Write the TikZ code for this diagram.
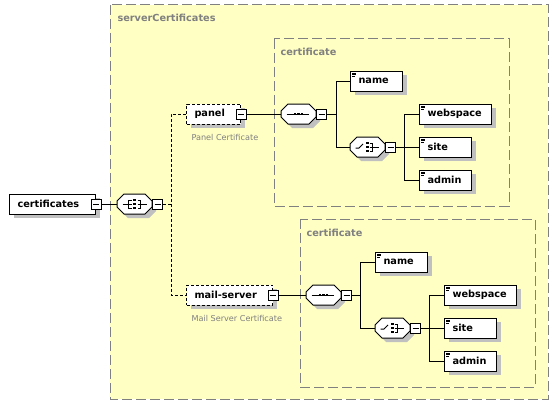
\documentclass[tikz,border=0pt]{standalone}
\usepackage{fontspec}
\setsansfont{DejaVu Sans}
\usepackage{tikz}
\usetikzlibrary{shadows}
\definecolor{typefill}{HTML}{FFFFC4}
\definecolor{typegray}{HTML}{808080}
\definecolor{shadowgray}{HTML}{C0C0C0}

\newcommand\compshape{%
  \fill[shadowgray] (4,1) -- (11,-6) -- (32,-6) -- (39,1) -- (39,7) -- (32,14) -- (11,14) -- (4,7) -- cycle;
  \draw[fill=white] (0,-3) -- (7,-10) -- (28,-10) -- (35,-3) -- (35,3) -- (28,10) -- (7,10) -- (0,3) -- cycle;
  \node[inner sep=0pt,minimum width=26.25pt,minimum height=15pt] (-box) at (17.5,0) {};
  \node[minus,anchor=west] (-m) at (35,0) {};}

\begin{document}
\begin{tikzpicture}[x=0.75pt,y=-0.75pt,line width=0.75pt,
  every node/.style={font=\sffamily\fontsize{7.3}{8}\selectfont},
  shade box/.style={drop shadow={shadow xshift=3pt,shadow yshift=-3pt,fill=shadowgray,opacity=1}},
  elem/.style={draw,fill=white,anchor=west,minimum height=15pt,inner xsep=6pt,inner ysep=1pt,
    text width=#1,font=\sffamily\bfseries\fontsize{7.3}{8}\selectfont,shade box},
  leaf/.style={elem=#1,path picture={
    \foreach \d/\l in {1.4/4,2.6/4,3.8/3}
      \draw[line width=0.5pt] ([xshift=1.2pt,yshift=-\d pt]path picture bounding box.north west) -- ++(\l,0);}},
  opt elem/.style={elem=#1,dash pattern=on 2.25pt off 1.5pt},
  minus/.style={draw,fill=white,minimum size=7.5pt,inner sep=0pt,path picture={
    \draw ([xshift=1.5pt]path picture bounding box.west) -- ([xshift=-1.5pt]path picture bounding box.east);}},
  seq/.pic={\compshape
    \draw (5.5,0) -- (27.5,0);
    \foreach \i in {-3.5,0,3.5}
      \fill ({16.25+\i},-1.25) rectangle ++(2.5,2.5);},
  choice/.pic={\compshape
    \draw (5.5,1) -- (9,1) -- (13,-3);
    \foreach \i in {-4,0,4}
      \fill (16.25,{\i-1.25}) rectangle ++(2.5,2.5);
    \draw (19.5,-4) -- (22.5,-4) -- (22.5,4) -- (19.5,4);
    \draw (19.5,0) -- (29,0);},
  all/.pic={\compshape
    \draw (5.5,0) -- (11.5,0);
    \draw (14.5,-4) -- (11.5,-4) -- (11.5,4) -- (14.5,4) (11.5,0) -- (14.5,0);
    \foreach \i in {-4,0,4}
      \fill (16.25,{\i-1.25}) rectangle ++(2.5,2.5);
    \draw (20.5,-4) -- (23.5,-4) -- (23.5,4) -- (20.5,4) (20.5,0) -- (29.5,0);},
  typebox/.style={draw=typegray,fill=typefill,dash pattern=on 7.5pt off 3pt},
  type label/.style={anchor=west,inner sep=0pt,text=typegray,font=\sffamily\bfseries\fontsize{7.3}{8}\selectfont},
  doc/.style={anchor=west,inner sep=0pt,text=typegray,font=\sffamily\fontsize{6.1}{7}\selectfont},
  opt link/.style={dash pattern=on 2.25pt off 1.5pt}]

  \useasboundingbox (0,0) rectangle (559,410);

  \draw[typebox] (110,5) rectangle (548,399);
  \draw[typebox] (274,39) rectangle (509,206);
  \draw[typebox] (300,219) rectangle (535,387);
  \node[type label] (servercerts) at (117,18) {serverCertificates};
  \node[type label] (certtype1) at (280,52) {certificate};
  \node[type label] (certtype2) at (306,233) {certificate};

  \node[elem=52.5pt] (certs) at (9,204) {certificates};
  \node[minus] (certs-m) at (certs.east) {};
  \pic (allc) at (117,204) {all};
  \coordinate (j0) at (171,204);

  \node[opt elem=28.5pt] (panel) at (186,114) {panel};
  \node[minus] (panel-m) at (panel.east) {};
  \node[doc] (panel-doc) at (191,137) {Panel Certificate};
  \pic (seq1) at (281,114) {seq};
  \coordinate (b1) at (336,114);
  \node[leaf=27pt] (name1) at (350,81) {name};
  \pic (ch1) at (350,147) {choice};
  \coordinate (b2) at (404,147);
  \node[leaf=42pt] (web1) at (419,114) {webspace};
  \node[leaf=27pt] (site1) at (419,147) {site};
  \node[leaf=27pt] (admin1) at (419,180) {admin};

  \node[opt elem=52.5pt] (mail) at (186,295) {mail-server};
  \node[minus] (mail-m) at (mail.east) {};
  \node[doc] (mail-doc) at (191,318) {Mail Server Certificate};
  \pic (seq2) at (306,295) {seq};
  \coordinate (b3) at (360,295);
  \node[leaf=27pt] (name2) at (375,262) {name};
  \pic (ch2) at (375,328) {choice};
  \coordinate (b4) at (429,328);
  \node[leaf=42pt] (web2) at (444,295) {webspace};
  \node[leaf=27pt] (site2) at (444,328) {site};
  \node[leaf=27pt] (admin2) at (444,361) {admin};

  \draw (certs-m.east) -- (allc-box.west);
  \draw[opt link] (allc-m.east) -- (j0) |- (panel.west) (j0) |- (mail.west);
  \draw (panel-m.east) -- (seq1-box.west);
  \draw (seq1-m.east) -- (b1) |- (name1.west) (b1) |- (ch1-box.west);
  \draw (ch1-m.east) -- (b2) |- (web1.west) (b2) |- (site1.west) (b2) |- (admin1.west);
  \draw (mail-m.east) -- (seq2-box.west);
  \draw (seq2-m.east) -- (b3) |- (name2.west) (b3) |- (ch2-box.west);
  \draw (ch2-m.east) -- (b4) |- (web2.west) (b4) |- (site2.west) (b4) |- (admin2.west);
\end{tikzpicture}
\end{document}
